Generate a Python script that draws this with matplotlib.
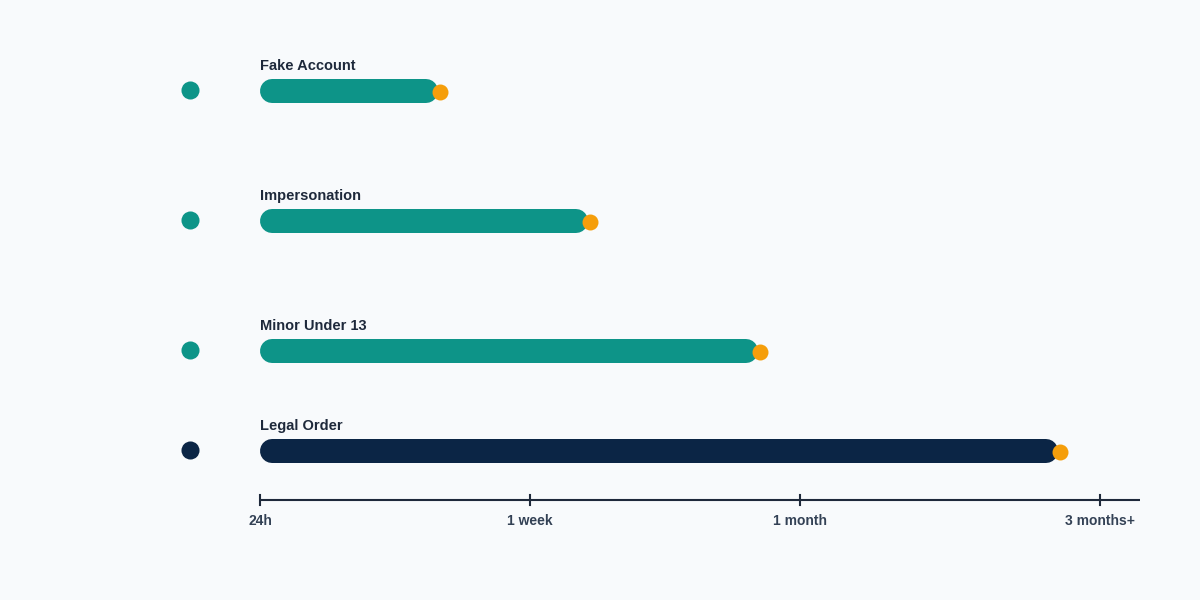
import matplotlib
matplotlib.use('Agg')
import matplotlib.pyplot as plt

plt.rcParams['font.family'] = ['Liberation Sans', 'DejaVu Sans']

# data
categories = ['Fake Account', 'Impersonation', 'Minor Under 13', 'Legal Order']
# response time on an ordinal scale: 0 = 24h, 1 = 1 week, 2 = 1 month, 3.11 = 3 months+
resolve_time = [0.667, 1.222, 1.852, 2.963]
bar_colors = ['#0d9488', '#0d9488', '#0d9488', '#0b2545']
tick_labels = ['24h', '1 week', '1 month', '3 months+']
tick_values = [0, 1, 2, 3.11]
axis_end = 3.26

BG = '#f8fafc'
TEXT = '#1e293b'
ORANGE = '#f59e0b'

# layout (pixels, y downwards)
row_y = [91, 221, 351, 451]
axis_y = 500
px_per_unit = 270
x0_px = 260

fig = plt.figure(figsize=(12, 6), dpi=100, facecolor=BG)
ax = fig.add_axes([0, 0, 1, 1])
ax.set_facecolor(BG)
ax.set_xlim(-x0_px / px_per_unit, (1200 - x0_px) / px_per_unit)
ax.set_ylim(600, 0)
ax.axis('off')

bar_w_px = 24
cap = bar_w_px / 2 / px_per_unit
lw = bar_w_px * 0.72

for name, val, col, y in zip(categories, resolve_time, bar_colors, row_y):
    ax.plot([cap, val - cap - 2 / px_per_unit], [y, y], color=col, lw=lw,
            solid_capstyle='round', zorder=2)
    ax.plot(val, y + 1, 'o', color=ORANGE, ms=11.5, mec='none', zorder=3)
    ax.plot(-70 / px_per_unit, y - 1, 'o', color=col, ms=13, mec='none', zorder=3)
    ax.text(0, y - 25, name, fontsize=10.5, fontweight='bold', color=TEXT,
            ha='left', va='center')

# time axis
ax.plot([0, axis_end], [axis_y, axis_y], color=TEXT, lw=1.5, solid_capstyle='butt')
for tv, tl in zip(tick_values, tick_labels):
    ax.plot([tv, tv], [axis_y - 5, axis_y + 5], color=TEXT, lw=1.5)
    ax.text(tv, axis_y + 21, tl, fontsize=10, fontweight='bold', color='#334155',
            ha='center', va='center')

plt.savefig('out.png', dpi=100, facecolor=BG)
